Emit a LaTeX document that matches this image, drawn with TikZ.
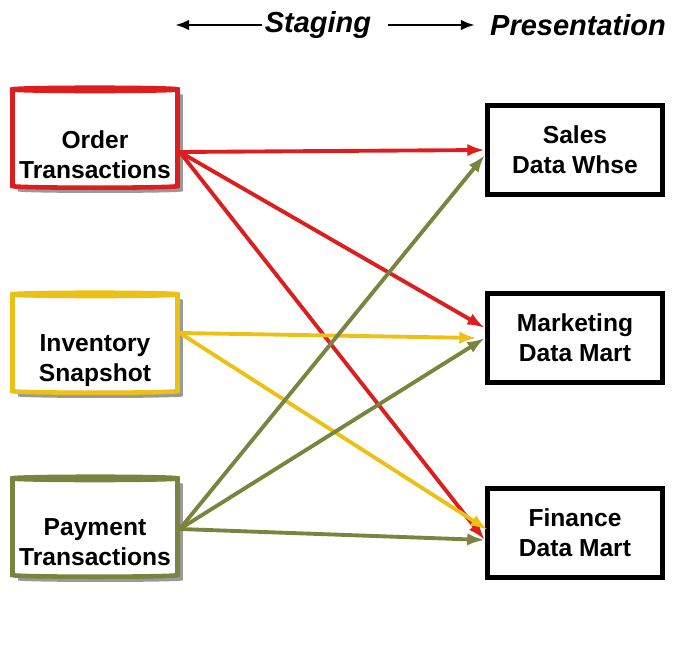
\documentclass[tikz,border=0pt]{standalone}
\usepackage{fontspec}
\setmainfont{Liberation Sans}
\usetikzlibrary{shapes.geometric,shadows,arrows.meta}
\definecolor{ordred}{RGB}{220,30,30}
\definecolor{invyel}{RGB}{236,192,20}
\definecolor{payolv}{RGB}{122,132,62}
\tikzset{
  store/.style={cylinder, shape border rotate=90, aspect=0.28, draw=#1, line width=2.6pt,
    fill=white, minimum width=3.3cm, minimum height=2.0cm,
    drop shadow={shadow xshift=3pt, shadow yshift=-3pt, fill=gray!80, opacity=1}},
  storetxt/.style={align=center, font=\bfseries\fontsize{14}{17}\selectfont},
  mart/.style={draw, line width=3pt, minimum width=3.5cm, minimum height=1.78cm,
    align=center, font=\bfseries\fontsize{14}{17}\selectfont},
  feed/.style={draw=#1, line width=2.2pt, -{Latex[length=10pt,width=7pt]}},
  hdr/.style={font=\bfseries\itshape\fontsize{16.5}{19}\selectfont}
}
\begin{document}
\begin{tikzpicture}[x=0.02cm,y=-0.02cm]
  \useasboundingbox (0,0) rectangle (684,671);
  % header
  \node[hdr] (stg) at (318,25) {Staging};
  \node[hdr] (prs) at (578,25) {Presentation};
  \coordinate (la) at (175,25);
  \coordinate (ls) at (262,25);
  \coordinate (rs) at (388,25);
  \coordinate (ra) at (475,25);
  \draw[line width=1.6pt,-{Latex[length=8pt,width=6pt]}] (ls) -- (la);
  \draw[line width=1.6pt,-{Latex[length=8pt,width=6pt]}] (rs) -- (ra);
  % sources
  \node[store=ordred] (ord) at (95,140) {};
  \node[store=invyel] (inv) at (95,345) {};
  \node[store=payolv] (pay) at (95,529) {};
  \node[storetxt] at (95,155) {Order\\Transactions};
  \node[storetxt] at (95,361) {Inventory\\Snapshot};
  \node[storetxt] at (95,542) {Payment\\Transactions};
  % targets
  \node[mart] (sal) at (575,150) {Sales\\Data Whse};
  \node[mart] (mkt) at (575,338) {Marketing\\Data Mart};
  \node[mart] (fin) at (575,533) {Finance\\Data Mart};
  % feeds
  \draw[feed=ordred] (ord.east) ++(0,12) coordinate (o1) -- (sal.west);
  \draw[feed=ordred] (o1) -- ([shift={(0,-10)}]mkt.west);
  \draw[feed=ordred] (o1) -- ([shift={(0,7)}]fin.west);
  \draw[feed=invyel] (inv.east) ++(0,-12) coordinate (i1) -- ([shift={(-8,0)}]mkt.west);
  \draw[feed=invyel] (i1) -- ([shift={(3,-3)}]fin.west);
  \draw[feed=payolv] (pay.east) coordinate (p1) -- ([shift={(0,5)}]sal.west);
  \draw[feed=payolv] (p1) -- (mkt.west);
  \draw[feed=payolv] (p1) -- ([shift={(0,7)}]fin.west);
\end{tikzpicture}
\end{document}
